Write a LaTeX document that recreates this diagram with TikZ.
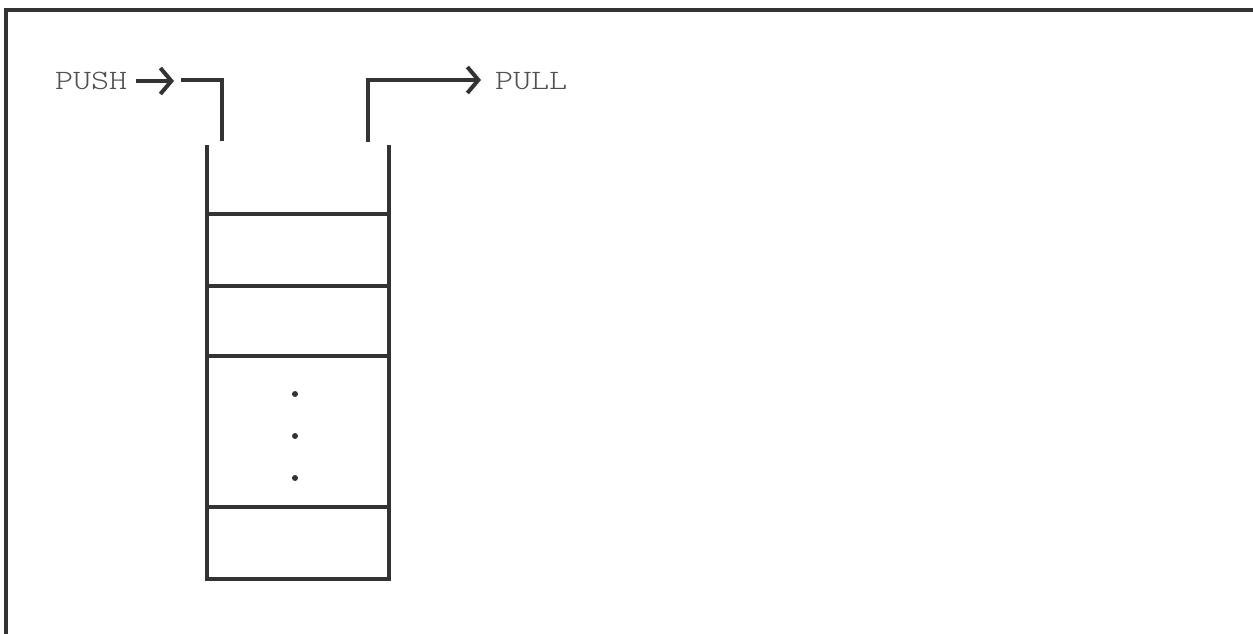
\documentclass[tikz,border=0pt]{standalone}
\usepackage{fontspec}
\newfontfamily\labelfont{Latin Modern Mono Light}[FakeStretch=1.23]
\usetikzlibrary{arrows.meta, positioning}
\definecolor{ink}{HTML}{333333}
\definecolor{labelgray}{HTML}{505050}

\begin{document}
\begin{tikzpicture}[x=1pt, y=-1pt, line width=4pt, color=ink,
  lbl/.style={text=labelgray, font=\labelfont\fontsize{28}{30}\selectfont, inner sep=0pt},
  flow/.style={-{Straight Barb[length=11pt,width=26pt]}}]
\useasboundingbox (0,0) rectangle (1253,634);
% Frame
\draw (6,634) -- (6,10.5) -- (1253,10.5);
% Labels
\node[lbl, anchor=base west] (push) at (53,89) {PUSH};
\node[lbl, anchor=base west] (pull) at (493,89) {PULL};
% Pipe ends
\coordinate (pushend) at (174,81);
\coordinate (pushstart) at (181,80);
\coordinate (inlet) at (222,141);
\coordinate (outlet) at (368,142);
\coordinate (pullend) at (481,80);
% Push arrow and inlet pipe
\draw[flow] ([xshift=7]push.east |- pushend) -- (pushend);
\draw (pushstart) -| (inlet);
% Outlet pipe and pull arrow
\draw[flow] (outlet) |- (pullend);
% Draw stack
\draw (207,145) -- (207,579) -- (389,579) -- (389,145);
\foreach \y in {214,286,356,507}
  \draw (207,\y) -- (389,\y);
% Dots for skipped cells
\foreach \y in {394,436,478}
  \fill (295,\y) circle [radius=3];
\end{tikzpicture}
\end{document}
